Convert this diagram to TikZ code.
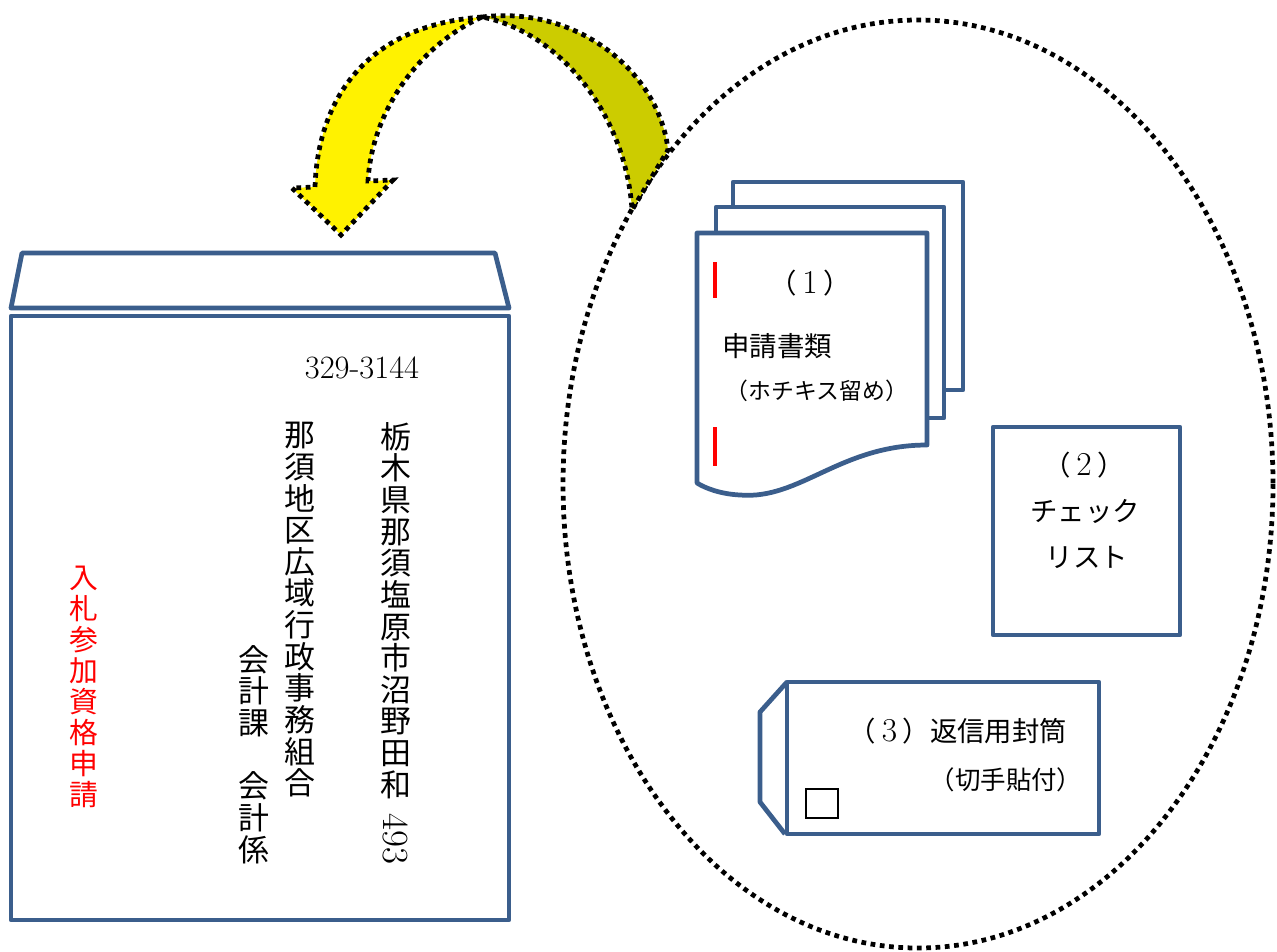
\documentclass[tikz,border=0pt]{standalone}
\usepackage{fontspec}
\usepackage{graphicx}
\newfontfamily\jp{Noto Sans CJK JP}
\definecolor{bord}{HTML}{3B5E8C}
\definecolor{darkyel}{HTML}{CCCC00}
\newcommand{\dg}[1]{{\rmfamily\fontsize{19}{19}\selectfont\,#1\,}}
\tikzset{
  bluebox/.style={draw=bord, line width=2.7pt, fill=white, line join=round},
  dotline/.style={draw=black, line width=2.7pt, dash pattern=on 2.7pt off 2.6pt},
  vtxt/.style={align=center, inner sep=0pt, anchor=north, font=\jp\fontsize{17.6}{18}\selectfont},
  lbl/.style={inner sep=0pt, font=\jp\fontsize{15.6}{18}\selectfont},
  staplemark/.style={draw=red, line width=2.8pt}
}
\begin{document}
\begin{tikzpicture}[x=0.02cm,y=-0.02cm]
\useasboundingbox (0,0) rectangle (1277,951);
% dotted ellipse
\draw[dotline] (918,484) ellipse [x radius=355, y radius=464];
% curved arrow
\path[fill=yellow, dotline] (482,17) .. controls (370,25) and (318,95) .. (315,187)
  -- (292,188) -- (341,235) -- (393,180) -- (368,181)
  .. controls (372,110) and (420,45) .. (482,17) -- cycle;
\path[fill=darkyel, dotline] (482,17) .. controls (580,5) and (660,75) .. (668,150)
  -- (632,210) .. controls (626,115) and (560,32) .. (482,17) -- cycle;
% big envelope
\draw[bluebox] (22,253) -- (495,253) -- (509,308) -- (11,308) -- cycle;
\draw[bluebox] (11,316) rectangle (509,920);
% document stack
\draw[bluebox] (733,182) rectangle (963,390);
\draw[bluebox] (716,207) rectangle (944,418);
\draw[bluebox] (697,233) -- (927,233) -- (927,445)
  .. controls (840,445) and (800,500) .. (740,495)
  .. controls (720,494) and (705,488) .. (697,483) -- cycle;
\draw[staplemark] (715,262) -- (715,298);
\draw[staplemark] (715,427) -- (715,466);
% checklist
\draw[bluebox] (993,427) rectangle (1180,635);
% return envelope
\draw[draw=bord, line width=2.7pt, line join=round] (787,682) -- (760,712) -- (760,802) -- (785,834);
\draw[bluebox] (787,682) rectangle (1099,834);
\draw[black, line width=0.9pt] (806,789) rectangle (838,818);
% texts on big envelope
\node[inner sep=0pt, font=\fontsize{18.5}{20}\selectfont] (zip) at (362,368) {329-3144};
\node[vtxt] (addr) at (396,422) {栃\\木\\県\\那\\須\\塩\\原\\市\\沼\\野\\田\\和\\[-8pt]\rotatebox{-90}{\rmfamily\fontsize{21}{21}\selectfont 493}};
\node[vtxt] (org) at (300,422) {那\\須\\地\\区\\広\\域\\行\\政\\事\\務\\組\\合};
\node[vtxt] (dept) at (254,645) {会\\計\\課\\　\\会\\計\\係};
\node[vtxt, text=red, font=\jp\fontsize{16.4}{17.6}\selectfont] (title) at (84,566) {入\\札\\参\\加\\資\\格\\申\\請};
% texts in ellipse
\node[lbl] (n1) at (810,283) {（\dg{1}）};
\node[lbl, anchor=west] (docname) at (722,346) {申請書類};
\node[lbl, font=\jp\fontsize{13}{15}\selectfont] (staple) at (817,391) {（ホチキス留め）};
\node[lbl] (n2) at (1084,465) {（\dg{2}）};
\node[lbl] (chk1) at (1085,511) {チェック};
\node[lbl] (chk2) at (1087,557) {リスト};
\node[lbl] (env) at (958,731) {（\dg{3}）返信用封筒};
\node[lbl, font=\jp\fontsize{14.5}{16}\selectfont] (stampnote) at (1006,780) {（切手貼付）};
\end{tikzpicture}
\end{document}
